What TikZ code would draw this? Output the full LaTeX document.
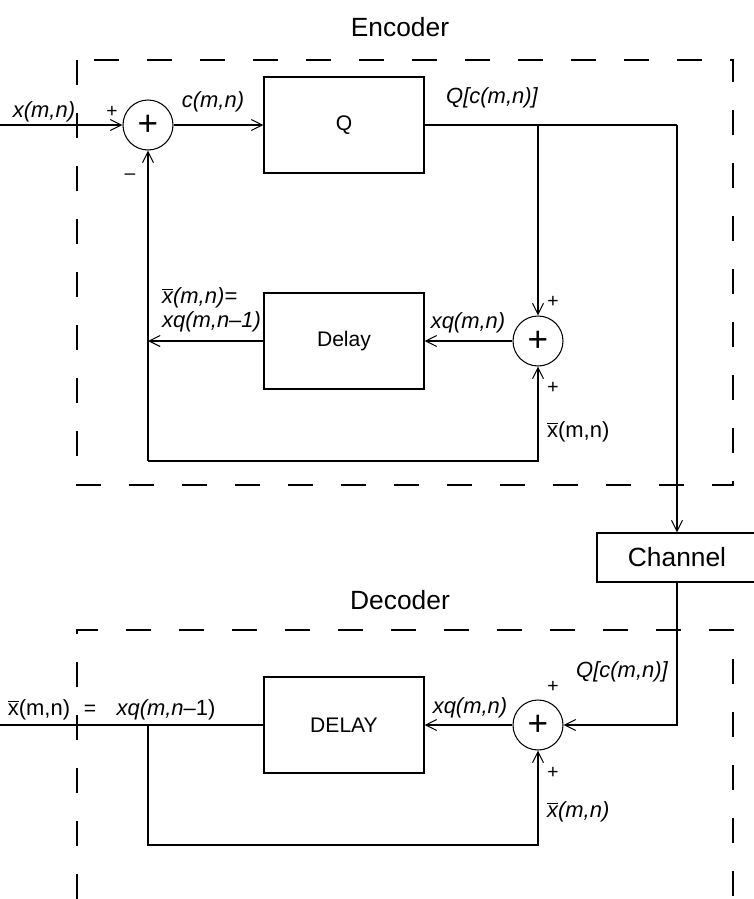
\documentclass[tikz,border=0pt]{standalone}
\usepackage{fontspec}
\setmainfont{Liberation Sans}
\usepackage{tikz}
\usetikzlibrary{
  arrows.meta,
  positioning,
  calc
}
\newcommand{\xbar}{$\overline{\mbox{x}}$}
\tikzset{
  sum node/.style={
    draw, circle, minimum size=1cm, inner sep=0pt,
    line width=0.6pt,
    font=\fontsize{20}{24}\selectfont
  },
  block/.style={
    draw, rectangle, minimum width=3.2cm, minimum height=1.92cm,
    line width=0.6pt,
    font=\fontsize{12}{14}\selectfont
  },
  sig arrow/.style={
    -{Straight Barb[length=2.2mm,width=2.2mm]}, line width=0.6pt
  },
  sig line/.style={
    line width=0.6pt
  },
  frame/.style={
    line width=0.6pt, dash pattern=on 0.5cm off 0.56cm
  },
  lbl/.style={
    font=\fontsize{12.5}{15}\selectfont\itshape, inner sep=1pt
  },
  sgn/.style={
    font=\fontsize{11}{13}\selectfont, inner sep=0pt
  },
  title/.style={
    font=\fontsize{15}{18}\selectfont
  },
}
\begin{document}
\begin{tikzpicture}

  \useasboundingbox (0,0) rectangle (15.08,-17.98);

  % frames
  \node[title] (enctitle) at (8.0,-0.54) {Encoder};
  \draw[frame] (1.54,-1.2) rectangle (14.66,-9.7);
  \node[title] (dectitle) at (8.0,-12.0) {Decoder};
  \draw[frame] (1.54,-17.98) -- (1.54,-12.6) -- (14.66,-12.6) -- (14.66,-17.98);

  % encoder blocks
  \node[sum node] (add1) at (2.96,-2.5) {+};
  \node[block] (quant) at (6.88,-2.5) {Q};
  \node[sum node] (add2) at (10.76,-6.82) {+};
  \node[block] (delay) at (6.88,-6.82) {Delay};
  \node[block, minimum width=3.2cm, minimum height=0.98cm,
        font=\fontsize{15}{18}\selectfont] (chan) at (13.54,-11.15) {Channel};

  \coordinate (xin) at (0,-2.5);
  \coordinate (split1) at (10.76,-2.5);
  \coordinate (turn1) at (13.54,-2.5);
  \coordinate (fb1) at (2.96,-6.82);
  \coordinate (fb2) at (2.96,-9.22);

  \draw[sig arrow] (xin) -- (add1);
  \draw[sig arrow] (add1) -- (quant);
  \draw[sig line] (quant.east) -- (split1) -- (turn1);
  \draw[sig arrow] (turn1) -- (chan.north);
  \draw[sig arrow] (split1) -- (add2);
  \draw[sig arrow] (add2) -- (delay);
  \draw[sig arrow] (delay.west) -- (fb1);
  \draw[sig arrow] (fb2) -- (add1);
  \draw[sig arrow] (fb2) -| (add2);

  % encoder labels
  \node[lbl] (xlab) at (0.88,-2.24) {x(m,n)};
  \node[sgn] (p1) at (2.24,-2.24) {+};
  \node[sgn] (m1) at (2.6,-3.54) {--};
  \node[lbl] (clab) at (4.26,-2.04) {c(m,n)};
  \node[lbl] (qlab) at (9.84,-1.96) {Q[c(m,n)]};
  \node[sgn] (p2) at (11.06,-6.04) {+};
  \node[sgn] (p3) at (11.06,-7.76) {+};
  \node[lbl] (xqlab) at (9.36,-6.46) {xq(m,n)};
  \node[lbl, anchor=west, align=left, font=\fontsize{12.5}{13.5}\selectfont\itshape]
    (predlab) at (3.2,-6.2) {\xbar(m,n)=\\xq(m,n--1)};
  \node[lbl, anchor=west, font=\fontsize{12.5}{15}\selectfont]
    (xblab) at (10.9,-8.64) {\xbar(m,n)};

  % decoder blocks
  \node[sum node] (add3) at (10.76,-14.5) {+};
  \node[block, font=\fontsize{12}{14}\selectfont] (delay2) at (6.88,-14.5) {DELAY};

  \coordinate (xout) at (0,-14.5);
  \coordinate (split2) at (2.96,-14.5);
  \coordinate (fb3) at (2.96,-16.9);

  \draw[sig arrow] (chan.south) |- (add3);
  \draw[sig arrow] (add3) -- (delay2);
  \draw[sig line] (delay2.west) -- (xout);
  \draw[sig arrow] (split2) -- (fb3) -| (add3);

  % decoder labels
  \node[lbl] (qlab2) at (12.44,-13.44) {Q[c(m,n)]};
  \node[sgn] (p4) at (11.06,-13.74) {+};
  \node[sgn] (p5) at (11.06,-15.46) {+};
  \node[lbl] (xqlab2) at (9.4,-14.16) {xq(m,n)};
  \node[lbl, anchor=west] (xblab2) at (10.9,-16.24) {\xbar(m,n)};
  \node[lbl, font=\fontsize{12.5}{15}\selectfont] (outlab) at (0.78,-14.2) {\xbar(m,n)};
  \node[sgn, font=\fontsize{12}{14}\selectfont] (eq) at (1.8,-14.2) {=};
  \node[lbl] (outlab2) at (3.32,-14.2) {xq(m,n\/\upshape--1)};

\end{tikzpicture}
\end{document}
